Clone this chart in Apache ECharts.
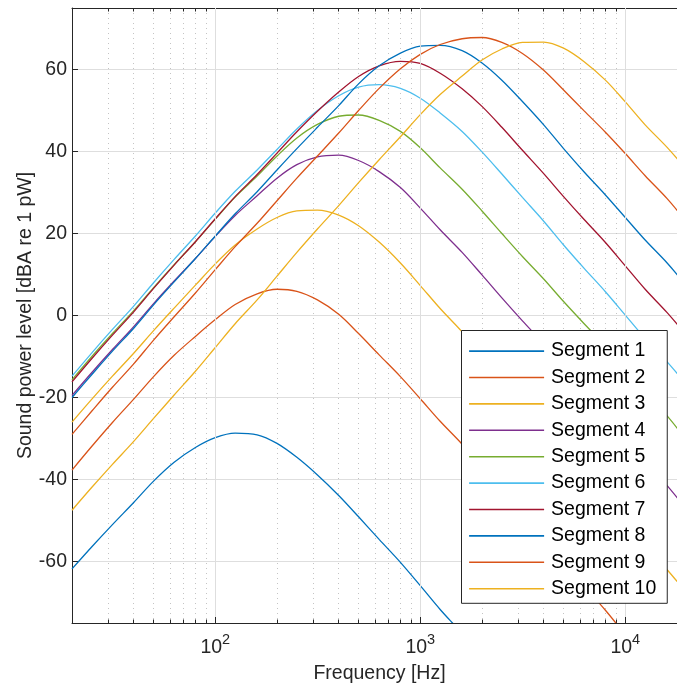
<!DOCTYPE html>
<html>
<head>
<meta charset="utf-8">
<script src="https://cdn.jsdelivr.net/npm/echarts@6/dist/echarts.min.js"></script>
<style>
  html, body { margin: 0; padding: 0; background: #fff; }
  #chart { width: 677px; height: 688px; }
</style>
</head>
<body>
<div id="chart"></div>
<script>
// One-third-octave-ish sample frequencies [Hz] shared by every segment spectrum
const freqs = [20, 25, 31.5, 40, 50, 63, 80, 100, 125, 160, 200, 250, 315, 400, 500, 630,
               800, 1000, 1250, 1600, 2000, 2500, 3150, 4000, 5000, 6300, 8000, 10000, 12500, 16000, 20000];

// A-weighted sound power level per segment [dBA re 1 pW]; null = far below the axis
const seg1  = [-61.8, -56.4, -51.0, -45.6, -40.4, -35.8, -32.2, -29.8, -28.7, -29.1, -31.2, -34.6, -38.9, -43.9, -49.1, -54.6,
               -60.2, -65.9, -71.7, -77.6, -83.6, null, null, null, null, null, null, null, null, null, null];
const seg2  = [-37.7, -31.9, -26.1, -20.4, -14.9, -9.7, -5.1, -1.0, 2.7, 5.3, 6.4, 5.9, 3.8, 0.3, -4.4, -9.6,
               -14.9, -20.3, -25.8, -31.4, -37.1, -42.8, -48.6, -54.4, -60.2, -66.0, -71.9, -77.9, null, null, null];
const seg3  = [-26.0, -20.4, -14.8, -9.2, -3.7, 1.8, 7.4, 12.6, 17.2, 21.1, 23.9, 25.5, 25.7, 24.5, 21.9, 17.9,
               12.8, 7.3, 1.7, -4.0, -9.8, -15.6, -21.4, -27.2, -33.0, -38.8, -44.6, -50.4, -56.2, -62.0, -67.8];
const seg4  = [-19.5, -13.9, -8.3, -2.7, 2.9, 8.4, 13.9, 19.3, 24.4, 29.2, 33.5, 36.8, 38.7, 39.1, 37.8, 35.1,
               31.2, 26.2, 20.9, 15.4, 9.9, 4.3, -1.3, -6.9, -12.6, -18.3, -24.0, -29.8, -35.6, -41.5, -47.4];
const seg5  = [-15.7, -10.0, -4.4, 1.2, 6.8, 12.4, 18.0, 23.5, 28.9, 34.0, 38.9, 43.3, 46.6, 48.6, 48.9, 47.6,
               44.9, 40.9, 36.0, 30.8, 25.5, 20.0, 14.4, 8.9, 3.4, -2.0, -7.4, -12.9, -18.6, -24.5, -30.5];
const seg6  = [-14.8, -9.1, -3.4, 2.3, 8.0, 13.7, 19.4, 25.0, 30.3, 35.5, 40.5, 45.5, 50.0, 53.6, 55.7, 56.3,
               55.4, 53.0, 49.4, 44.9, 39.9, 34.5, 28.8, 23.0, 17.2, 11.5, 5.8, 0.1, -5.6, -11.3, -17.0];
const seg7  = [-16.2, -10.5, -4.8, 0.9, 6.6, 12.3, 18.0, 23.6, 29.0, 34.4, 39.6, 44.8, 49.8, 54.5, 58.3, 60.9,
               62.0, 61.5, 59.1, 55.3, 51.0, 45.9, 40.3, 34.6, 29.0, 23.4, 17.8, 12.1, 6.4, 0.7, -5.0];
const seg8  = [-20.0, -14.4, -8.7, -3.1, 2.6, 8.2, 13.9, 19.4, 24.8, 30.2, 35.5, 40.7, 45.9, 51.2, 56.5, 60.9,
               64.0, 65.7, 65.9, 64.6, 61.6, 57.4, 52.2, 46.5, 40.7, 35.0, 29.4, 23.9, 18.4, 12.8, 7.1];
const seg9  = [-29.0, -23.3, -17.5, -11.8, -6.0, -0.3, 5.5, 11.2, 16.8, 22.5, 28.0, 33.5, 38.9, 44.5, 50.0, 55.4,
               60.2, 63.7, 66.1, 67.5, 67.8, 66.6, 63.9, 59.8, 55.0, 49.9, 44.7, 39.5, 34.1, 28.5, 22.7];
const seg10 = [-47.5, -41.9, -36.3, -30.7, -25.1, -19.4, -13.6, -7.8, -2.0, 3.8, 9.6, 15.4, 21.1, 26.8, 32.4, 38.0,
               43.6, 49.0, 53.9, 58.4, 62.3, 65.0, 66.6, 66.7, 65.2, 61.9, 57.4, 52.1, 46.5, 41.0, 35.4];

const segments = [seg1, seg2, seg3, seg4, seg5, seg6, seg7, seg8, seg9, seg10];
const segNames = ['Segment 1', 'Segment 2', 'Segment 3', 'Segment 4', 'Segment 5',
                  'Segment 6', 'Segment 7', 'Segment 8', 'Segment 9', 'Segment 10'];
const segColors = ['#0072BD', '#D95319', '#EDB120', '#7E2F8E', '#77AC30',
                   '#4DBEEE', '#A2142F', '#0072BD', '#D95319', '#EDB120'];

// Axis ticks
const xMajorTicks = [100, 1000, 10000];
const xMinorTicks = [30, 40, 50, 60, 70, 80, 90,
                     200, 300, 400, 500, 600, 700, 800, 900,
                     2000, 3000, 4000, 5000, 6000, 7000, 8000, 9000];
const yTicks = [-60, -40, -20, 0, 20, 40, 60];

const FONT = 'Liberation Sans, Arial, Helvetica, sans-serif';
const AXIS_COLOR = '#262626';
const GRID_COLOR = '#dedede';
const MINOR_GRID_COLOR = '#c4c4c4';

const logAxisBase = {
  type: 'log',
  logBase: 10,
  min: 20,
  max: 20000,
  gridIndex: 0
};

const chart = echarts.init(document.getElementById('chart'), null, { renderer: 'canvas' });

chart.setOption({
  animation: false,
  backgroundColor: '#ffffff',
  grid: { left: 72, top: 8, width: 615, height: 615, containLabel: false, outerBoundsMode: 'none' },
  xAxis: [
    Object.assign({}, logAxisBase, {
      position: 'bottom',
      name: 'Frequency [Hz]',
      nameLocation: 'middle',
      nameGap: 41,
      nameMoveOverlap: false,
      nameTextStyle: { fontFamily: FONT, fontSize: 19.5, color: AXIS_COLOR },
      axisLine: { show: true, onZero: false, lineStyle: { color: AXIS_COLOR, width: 1 } },
      axisTick: { show: true, inside: true, length: 6, customValues: xMajorTicks,
                  lineStyle: { color: AXIS_COLOR, width: 1 } },
      axisLabel: {
        show: true,
        margin: 9,
        customValues: xMajorTicks,
        formatter: function (v) {
          const e = Math.round(Math.log10(v));
          return '{b|10}{s|' + e + '}';
        },
        rich: {
          b: { fontFamily: FONT, fontSize: 19.5, color: AXIS_COLOR, lineHeight: 26, verticalAlign: 'bottom' },
          s: { fontFamily: FONT, fontSize: 14.5, color: AXIS_COLOR, lineHeight: 26, verticalAlign: 'top' }
        }
      },
      splitLine: { show: true, lineStyle: { color: GRID_COLOR, width: 1 } },
      z: 3
    }),
    Object.assign({}, logAxisBase, {
      position: 'top',
      axisLine: { show: true, onZero: false, lineStyle: { color: AXIS_COLOR, width: 1 } },
      axisTick: { show: true, inside: true, length: 6, customValues: xMajorTicks,
                  lineStyle: { color: AXIS_COLOR, width: 1 } },
      axisLabel: { show: false },
      splitLine: { show: false }
    }),
    Object.assign({}, logAxisBase, {
      position: 'bottom',
      axisLine: { show: false, onZero: false },
      axisTick: { show: true, inside: true, length: 3.5, customValues: xMinorTicks,
                  lineStyle: { color: AXIS_COLOR, width: 1 } },
      axisLabel: { show: false },
      splitLine: { show: true, lineStyle: { color: MINOR_GRID_COLOR, width: 1, type: [1, 4] } }
    }),
    Object.assign({}, logAxisBase, {
      position: 'top',
      axisLine: { show: false, onZero: false },
      axisTick: { show: true, inside: true, length: 3.5, customValues: xMinorTicks,
                  lineStyle: { color: AXIS_COLOR, width: 1 } },
      axisLabel: { show: false },
      splitLine: { show: false }
    })
  ],
  yAxis: {
    type: 'value',
    min: -75,
    max: 75,
    name: 'Sound power level [dBA re 1 pW]',
    nameLocation: 'middle',
    nameGap: 36,
    nameMoveOverlap: false,
    nameTextStyle: { fontFamily: FONT, fontSize: 19.5, color: AXIS_COLOR },
    axisLine: { show: true, onZero: false, lineStyle: { color: AXIS_COLOR, width: 1 } },
    axisTick: { show: true, inside: true, length: 6, customValues: yTicks,
                lineStyle: { color: AXIS_COLOR, width: 1 } },
    axisLabel: { show: true, margin: 5, customValues: yTicks,
                 fontFamily: FONT, fontSize: 19.5, color: AXIS_COLOR },
    splitLine: { show: true, lineStyle: { color: GRID_COLOR, width: 1 } }
  },
  legend: {
    show: true,
    data: segNames,
    orient: 'vertical',
    left: 461.5,
    top: 330.5,
    icon: 'rect',
    itemWidth: 75,
    itemHeight: 1.6,
    itemGap: 6.4,
    padding: [10.6, 11, 4.6, 7.6],
    backgroundColor: '#ffffff',
    borderColor: AXIS_COLOR,
    borderWidth: 1,
    borderRadius: 0,
    textStyle: { fontFamily: FONT, fontSize: 19.5, color: '#000000', lineHeight: 20,
                 padding: [0, 0, 0, 2] },
    selectedMode: false,
    z: 10
  },
  series: segments.map(function (vals, i) {
    const pts = [];
    freqs.forEach(function (f, k) {
      if (vals[k] !== null) pts.push([f, vals[k]]);
    });
    return {
      name: segNames[i],
      type: 'line',
      xAxisIndex: 0,
      data: pts,
      smooth: 0.33,
      showSymbol: false,
      symbol: 'none',
      clip: true,
      color: segColors[i],
      lineStyle: { color: segColors[i], width: 1.3 },
      z: 2
    };
  })
});
</script>
</body>
</html>
